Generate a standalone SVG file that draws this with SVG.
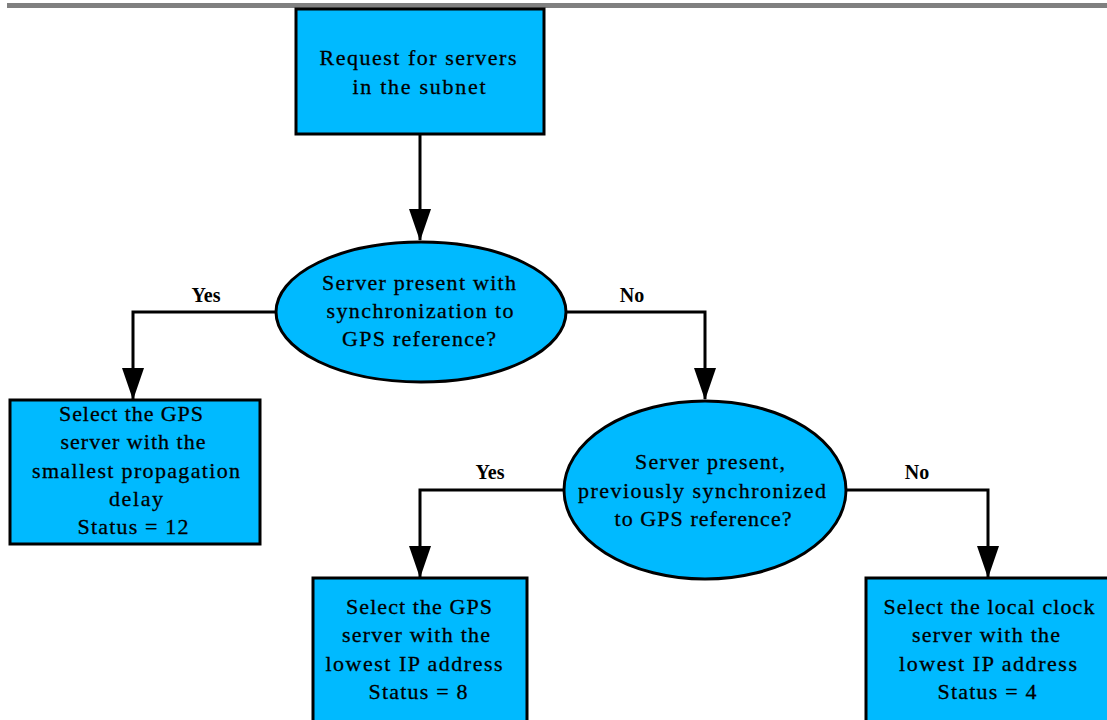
<svg xmlns="http://www.w3.org/2000/svg" width="1107" height="720" viewBox="0 0 1107 720">
  <style>
    .box { fill: #00BAFF; stroke: #000; stroke-width: 3; }
    .dec { fill: #00BAFF; stroke: #000; stroke-width: 3; }
    .t { font-family: "Liberation Serif", "Times New Roman", serif; font-size: 22px; fill: #000; stroke: #000; stroke-width: 0.3; text-anchor: middle; }
    .lbl { font-family: "Liberation Serif", "Times New Roman", serif; font-size: 20px; font-weight: bold; fill: #000; text-anchor: middle; }
    .wire { fill: none; stroke: #000; stroke-width: 3; }
  </style>
  <defs>
    <!-- arrowhead drawn along +x so orient="auto" aligns it with the last segment -->
    <marker id="head" viewBox="0 0 32 22" refX="31" refY="11" markerWidth="32" markerHeight="22" markerUnits="userSpaceOnUse" orient="auto">
      <path d="M0,0 L32,11 L0,22 Z" fill="#000"/>
    </marker>
  </defs>
  <rect width="1107" height="720" fill="#fff"/>
  <!-- header rule -->
  <rect x="7" y="3" width="1100" height="5" fill="#808080"/>

  <g id="connectors">
    <path class="wire" d="M420,134 V240" marker-end="url(#head)"/>
    <path class="wire" d="M276,312 H133 V399" marker-end="url(#head)"/>
    <path class="wire" d="M566,312 H705 V399" marker-end="url(#head)"/>
    <path class="wire" d="M563,490 H420 V577" marker-end="url(#head)"/>
    <path class="wire" d="M846,490 H988 V577" marker-end="url(#head)"/>
    <text class="lbl" x="206" y="302">Yes</text>
    <text class="lbl" x="632" y="302">No</text>
    <text class="lbl" x="490" y="479">Yes</text>
    <text class="lbl" x="917" y="479">No</text>
  </g>

  <g id="request">
    <rect class="box" x="296" y="9" width="248" height="125"/>
    <text class="t" x="418" y="65" textLength="197" lengthAdjust="spacing">Request for servers</text>
    <text class="t" x="419" y="94" textLength="133" lengthAdjust="spacing">in the subnet</text>
  </g>

  <g id="gps-present">
    <ellipse class="dec" cx="421" cy="312" rx="145" ry="70"/>
    <text class="t" x="419" y="290" textLength="194" lengthAdjust="spacing">Server present with</text>
    <text class="t" x="420" y="318" textLength="187" lengthAdjust="spacing">synchronization to</text>
    <text class="t" x="419" y="346" textLength="154" lengthAdjust="spacing">GPS reference?</text>
  </g>

  <g id="select-smallest-delay">
    <rect class="box" x="10" y="400" width="250" height="144"/>
    <text class="t" x="131" y="421" textLength="144" lengthAdjust="spacing">Select the GPS</text>
    <text class="t" x="133" y="449" textLength="145" lengthAdjust="spacing">server with the</text>
    <text class="t" x="136" y="478" textLength="208" lengthAdjust="spacing">smallest propagation</text>
    <text class="t" x="136" y="506" textLength="54" lengthAdjust="spacing">delay</text>
    <text class="t" x="133" y="534" textLength="111" lengthAdjust="spacing">Status = 12</text>
  </g>

  <g id="previously-synced">
    <ellipse class="dec" cx="705" cy="490" rx="141" ry="89"/>
    <text class="t" x="710" y="469" textLength="150" lengthAdjust="spacing">Server present,</text>
    <text class="t" x="702" y="498" textLength="248" lengthAdjust="spacing">previously synchronized</text>
    <text class="t" x="703" y="526" textLength="177" lengthAdjust="spacing">to GPS reference?</text>
  </g>

  <g id="select-gps-lowest-ip">
    <rect class="box" x="313" y="578" width="214" height="150"/>
    <text class="t" x="419" y="614" textLength="146" lengthAdjust="spacing">Select the GPS</text>
    <text class="t" x="416" y="642" textLength="148" lengthAdjust="spacing">server with the</text>
    <text class="t" x="414" y="671" textLength="177" lengthAdjust="spacing">lowest IP address</text>
    <text class="t" x="418" y="699" textLength="99" lengthAdjust="spacing">Status = 8</text>
  </g>

  <g id="select-local-clock">
    <rect class="box" x="866" y="578" width="250" height="150"/>
    <text class="t" x="989" y="614" textLength="211" lengthAdjust="spacing">Select the local clock</text>
    <text class="t" x="986" y="642" textLength="148" lengthAdjust="spacing">server with the</text>
    <text class="t" x="988" y="671" textLength="178" lengthAdjust="spacing">lowest IP address</text>
    <text class="t" x="987" y="699" textLength="99" lengthAdjust="spacing">Status = 4</text>
  </g>
</svg>
